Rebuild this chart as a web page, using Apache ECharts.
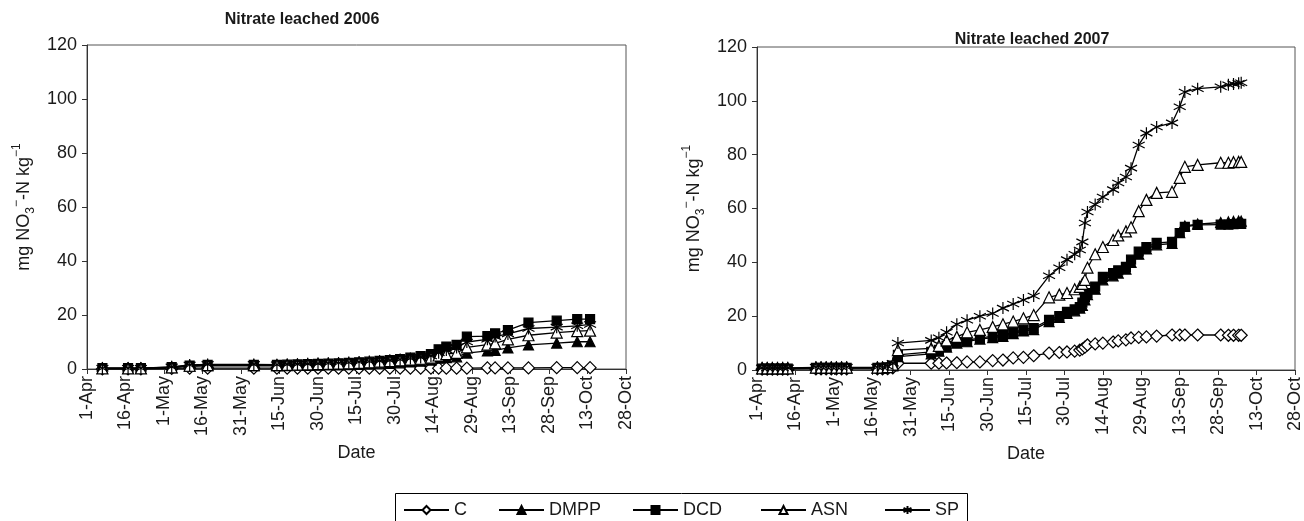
<!DOCTYPE html>
<html>
<head>
<meta charset="utf-8">
<script src="https://cdn.jsdelivr.net/npm/echarts@6/dist/echarts.min.js"></script>
<style>
  html, body { margin: 0; padding: 0; background: #fff; }
  #main { width: 1304px; height: 521px; }
</style>
</head>
<body>
<div id="main"></div>
<script>
// x values are days counted from 1 April
var tickLabels = ['1-Apr', '16-Apr', '1-May', '16-May', '31-May', '15-Jun', '30-Jun', '15-Jul',
  '30-Jul', '14-Aug', '29-Aug', '13-Sep', '28-Sep', '13-Oct', '28-Oct'];
var seriesNames = ['C', 'DMPP', 'DCD', 'ASN', 'SP'];

// 2006
var days2006 = [6, 16, 21, 33, 40, 47, 65, 74, 78, 82, 86, 90, 94, 98, 102, 106, 110, 114, 118, 122, 126, 130, 134,
  137, 140, 144, 148, 156, 159, 164, 172, 183, 191, 196];
var c2006 = [0, 0, 0, 0.2, 0.3, 0.3, 0.3, 0.3, 0.3, 0.3, 0.3, 0.3, 0.3, 0.3, 0.3, 0.3, 0.3, 0.3, 0.3, 0.3, 0.3, 0.3, 0.3,
  0.3, 0.3, 0.3, 0.3, 0.4, 0.4, 0.4, 0.4, 0.5, 0.5, 0.5];
var dmpp2006 = [0.2, 0.2, 0.2, 0.5, 1.0, 1.2, 1.2, 1.2, 1.2, 1.3, 1.3, 1.4, 1.5, 1.5, 1.6, 1.7, 1.8, 1.9, 2.1, 2.3, 2.6, 2.9, 3.3,
  4.0, 4.2, 4.5, 5.9, 6.7, 6.9, 7.8, 8.9, 9.6, 10.1, 10.1];
var dcd2006 = [0.3, 0.3, 0.3, 0.7, 1.3, 1.5, 1.5, 1.5, 1.6, 1.7, 1.8, 1.9, 2.0, 2.1, 2.3, 2.5, 2.7, 3.0, 3.3, 3.7, 4.2, 4.8, 5.5,
  7.3, 8.3, 8.9, 12.0, 12.2, 13.2, 14.4, 17.2, 17.9, 18.5, 18.5];
var asn2006 = [0.2, 0.2, 0.2, 0.6, 1.2, 1.4, 1.4, 1.4, 1.5, 1.6, 1.7, 1.8, 1.9, 2.0, 2.1, 2.3, 2.5, 2.7, 2.9, 3.2, 3.5, 3.8, 4.2,
  5.0, 5.5, 6.0, 8.0, 9.0, 9.5, 11.0, 12.5, 13.5, 14.0, 14.2];
var sp2006 = [0.3, 0.3, 0.3, 0.8, 1.5, 1.7, 1.7, 1.6, 1.7, 1.8, 1.9, 2.0, 2.1, 2.2, 2.4, 2.6, 2.8, 3.0, 3.2, 3.5, 3.9, 4.3, 4.8,
  6.0, 7.0, 8.0, 10.0, 11.0, 12.0, 13.0, 15.0, 15.5, 16.0, 16.5];

// 2007
var days2007 = [2, 4, 6, 8, 10, 12, 23, 25, 27, 29, 31, 33, 35, 47, 49, 51, 53, 55, 68, 71, 74, 78, 82, 87, 92, 96, 100,
  104, 108, 114, 118, 121, 124, 126, 127, 128, 129, 132, 135, 139, 141, 144, 146, 149, 152, 156, 162, 165, 167, 172,
  181, 184, 186, 188, 189];
var c2007 = [0.3, 0.3, 0.3, 0.3, 0.3, 0.3, 0.4, 0.4, 0.4, 0.4, 0.4, 0.4, 0.4, 0.4, 0.4, 0.5, 0.8, 2.5, 2.5, 2.5, 2.6,
  2.7, 3.0, 3.0, 3.5, 3.7, 4.5, 4.7, 5.3, 6.3, 6.5, 6.7, 7.0, 7.4, 7.8, 8.5, 9.3, 9.7, 10.0, 10.4, 10.8, 11.2, 11.9,
  12.1, 12.3, 12.6, 13.0, 13.0, 13.0, 13.0, 13.0, 12.9, 12.9, 12.9, 12.9];
var dmpp2007 = [0.5, 0.5, 0.5, 0.5, 0.5, 0.5, 0.8, 0.8, 0.8, 0.8, 0.8, 0.8, 0.8, 0.8, 0.8, 1.0, 1.5, 5.0, 6.0, 7.0, 8.5,
  10.0, 10.5, 11.5, 12.0, 12.5, 13.5, 14.5, 15.0, 18.0, 19.5, 21.0, 22.0, 23.0, 24.0, 26.0, 28.0, 30.0, 33.5, 35.0,
  36.0, 37.5, 40.0, 43.0, 45.0, 46.5, 47.0, 51.0, 53.5, 54.2, 54.8, 55.0, 55.2, 55.3, 55.3];
var dcd2007 = [0.5, 0.5, 0.5, 0.5, 0.5, 0.5, 0.8, 0.8, 0.8, 0.8, 0.8, 0.8, 0.8, 0.8, 0.8, 1.0, 1.6, 5.6, 6.7, 7.5, 9.0,
  10.4, 11.0, 11.9, 12.5, 13.0, 14.0, 15.0, 15.6, 18.6, 20.0, 21.6, 22.5, 23.4, 25.0, 27.0, 28.6, 31.0, 34.6, 36.0,
  37.0, 38.3, 41.0, 44.0, 45.7, 47.2, 47.6, 50.9, 53.2, 53.9, 54.0, 54.0, 54.2, 54.3, 54.3];
var asn2007 = [0.6, 0.6, 0.6, 0.6, 0.6, 0.6, 0.9, 0.9, 0.9, 0.9, 0.9, 0.9, 0.9, 0.9, 0.9, 1.1, 2.0, 7.4, 8.0, 9.0, 11.0,
  12.3, 14.0, 14.9, 16.0, 17.0, 18.0, 19.2, 20.4, 27.0, 28.0, 28.6, 30.0, 30.9, 32.0, 33.5, 38.0, 43.0, 45.7, 48.3,
  50.0, 51.5, 53.0, 59.0, 63.2, 65.8, 66.2, 71.4, 75.5, 76.2, 77.0, 77.0, 77.2, 77.3, 77.3];
var sp2007 = [0.8, 0.8, 0.8, 0.8, 0.8, 0.8, 1.0, 1.0, 1.0, 1.0, 1.0, 1.0, 1.0, 1.0, 1.0, 1.3, 2.5, 10.0, 11.0, 12.0, 14.0,
  17.0, 18.5, 20.0, 21.0, 23.0, 24.5, 26.0, 27.5, 35.0, 38.0, 41.0, 43.0, 44.6, 47.6, 54.6, 58.7, 61.5, 64.3, 67.0,
  69.5, 71.7, 75.0, 83.6, 88.0, 90.3, 91.8, 97.8, 103.3, 104.5, 105.2, 106.0, 106.3, 106.5, 106.7];

var chart = echarts.init(document.getElementById('main'));
var txt = '#1a1a1a';
var FONT = '"Liberation Sans", Arial, sans-serif';

var markers = {
  C: { symbol: 'diamond', size: 12, fill: '#fff' },
  DMPP: { symbol: 'triangle', size: 10, fill: '#000' },
  DCD: { symbol: 'rect', size: 9, fill: '#000' },
  ASN: { symbol: 'triangle', size: 11, fill: '#fff' },
  SP: { symbol: 'path://M5,0L5,10M0.67,2.5L9.33,7.5M0.67,7.5L9.33,2.5', size: 12, fill: '#fff' }
};
// left edge of each legend entry
var legendX = { C: 403, DMPP: 498, DCD: 632, ASN: 760, SP: 884 };

function makeSeries(name, days, vals, idx) {
  var m = markers[name];
  return {
    name: name,
    type: 'line',
    xAxisIndex: idx,
    yAxisIndex: idx,
    data: days.map(function (d, i) { return [d, vals[i]]; }),
    symbol: m.symbol,
    symbolSize: m.size,
    showAllSymbol: true,
    lineStyle: { color: '#000', width: 1.3 },
    itemStyle: { color: m.fill, borderColor: '#000', borderWidth: 1.2 },
    emphasis: { disabled: true },
    animation: false
  };
}

function xAxis(idx) {
  return {
    type: 'value', gridIndex: idx, min: 0, max: 210, interval: 15,
    name: 'Date', nameLocation: 'middle', nameGap: 63,
    nameTextStyle: { fontSize: 18, color: txt, fontFamily: FONT },
    axisLine: { lineStyle: { color: '#333', width: 1 } },
    axisTick: { show: true, length: 5, lineStyle: { color: '#333' } },
    axisLabel: {
      rotate: 90, fontSize: 18, color: txt, fontFamily: FONT, margin: 7,
      formatter: function (v) { return tickLabels[Math.round(v / 15)]; }
    },
    splitLine: { show: false }
  };
}

function yAxis(idx) {
  return {
    type: 'value', gridIndex: idx, min: 0, max: 120, interval: 20,
    name: '{a|mg NO}{sub|3}{sup|\u2212}{a|-N kg}{sup|\u22121}',
    nameLocation: 'middle', nameGap: 50,
    nameTextStyle: {
      color: txt, fontFamily: FONT,
      rich: {
        a: { fontSize: 18, color: txt, fontFamily: FONT, lineHeight: 26 },
        sub: { fontSize: 12, color: txt, fontFamily: FONT, verticalAlign: 'bottom', lineHeight: 26 },
        sup: { fontSize: 12, color: txt, fontFamily: FONT, verticalAlign: 'top', lineHeight: 26 }
      }
    },
    axisLine: { show: true, lineStyle: { color: '#333', width: 1 } },
    axisTick: { show: true, length: 5, lineStyle: { color: '#333' } },
    axisLabel: { fontSize: 18, color: txt, fontFamily: FONT, margin: 10 },
    splitLine: { show: false }
  };
}

var series = [];
var y06 = [c2006, dmpp2006, dcd2006, asn2006, sp2006];
var y07 = [c2007, dmpp2007, dcd2007, asn2007, sp2007];
seriesNames.forEach(function (n, i) { series.push(makeSeries(n, days2006, y06[i], 0)); });
seriesNames.forEach(function (n, i) { series.push(makeSeries(n, days2007, y07[i], 1)); });

var legends = seriesNames.map(function (n) {
  return {
    data: [n], left: legendX[n], top: 501, padding: 0,
    itemWidth: 45, itemHeight: 10, itemGap: 0,
    textStyle: { fontSize: 18, color: txt, fontFamily: FONT, padding: [0, 0, 0, 0] },
    selectedMode: false
  };
});

chart.setOption({
  backgroundColor: '#fff',
  animation: false,
  title: [
    { text: 'Nitrate leached 2006', left: 297, top: 7, textAlign: 'center',
      textStyle: { fontSize: 16, fontWeight: 'bold', color: txt, fontFamily: FONT } },
    { text: 'Nitrate leached 2007', left: 1027, top: 27, textAlign: 'center',
      textStyle: { fontSize: 16, fontWeight: 'bold', color: txt, fontFamily: FONT } }
  ],
  grid: [
    { left: 87, top: 45, width: 539, height: 324, show: true, borderColor: '#555', borderWidth: 1, backgroundColor: '#fff' },
    { left: 757, top: 47, width: 539, height: 323, show: true, borderColor: '#555', borderWidth: 1, backgroundColor: '#fff' }
  ],
  graphic: [{
    type: 'rect', left: 393, top: 491,
    shape: { width: 572, height: 40 },
    style: { fill: 'none', stroke: '#000', lineWidth: 1 }
  }],
  legend: legends,
  xAxis: [xAxis(0), xAxis(1)],
  yAxis: [yAxis(0), yAxis(1)],
  series: series
});
</script>
</body>
</html>
